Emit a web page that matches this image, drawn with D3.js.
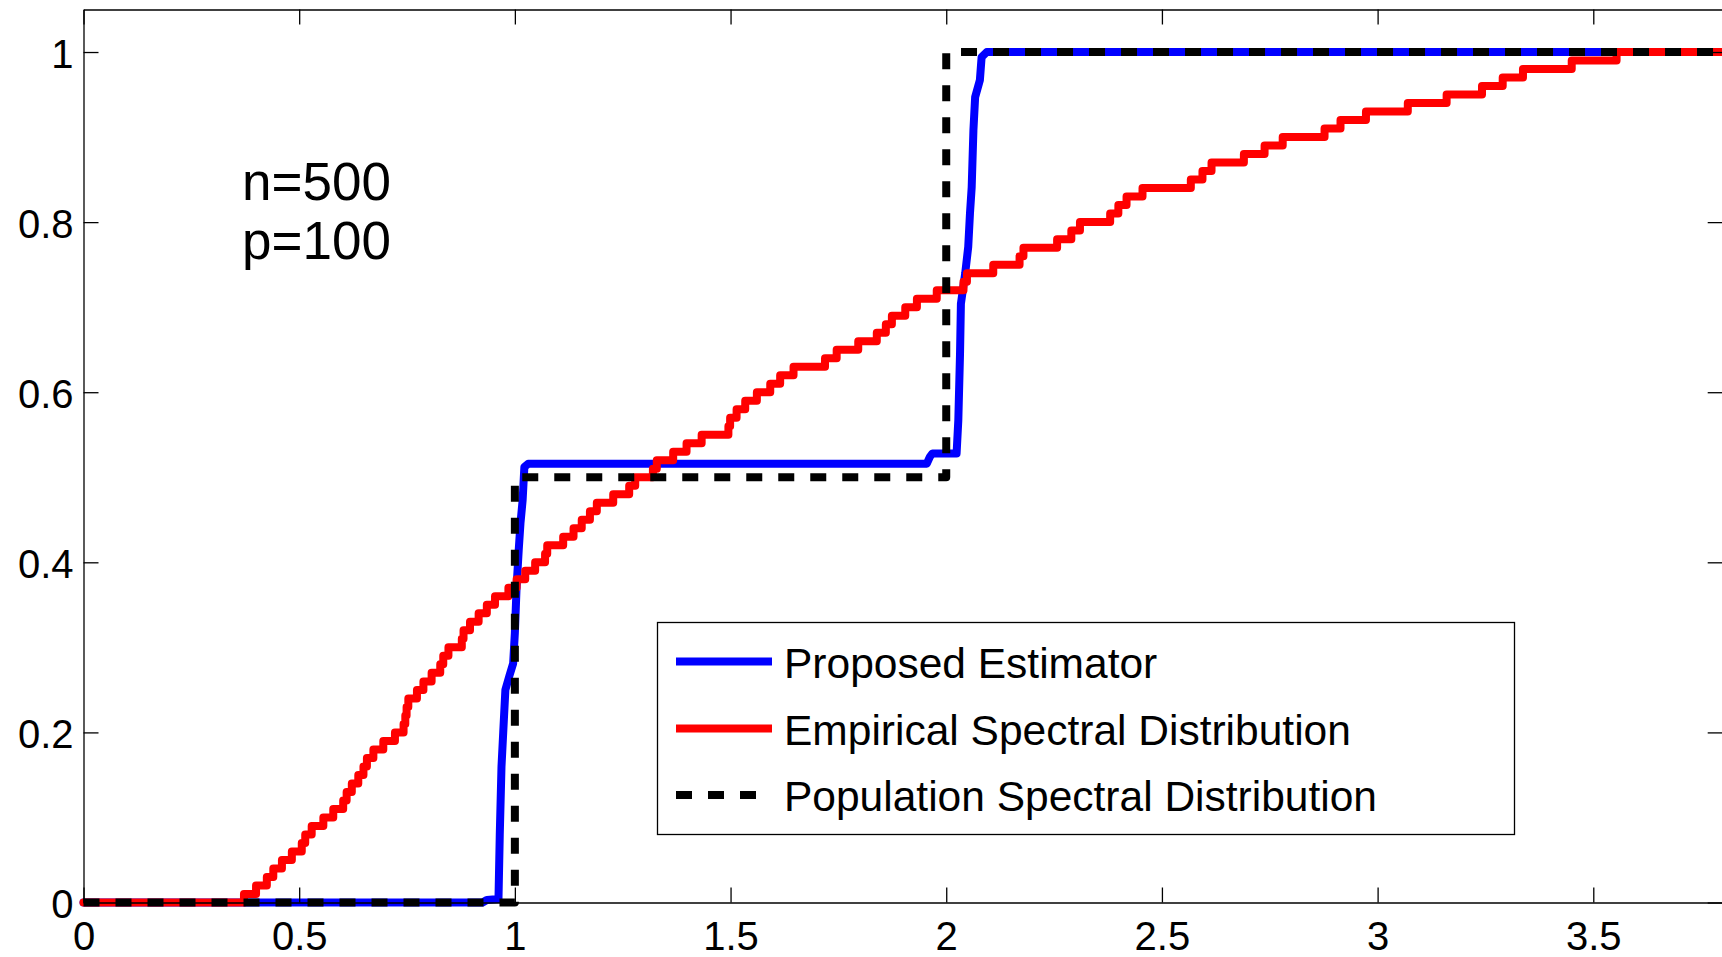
<!DOCTYPE html>
<html>
<head>
<meta charset="utf-8">
<script src="https://cdn.jsdelivr.net/npm/d3@7"></script>
<style>
  html, body { margin: 0; padding: 0; background: #fff; }
  svg { display: block; }
  text { font-family: "Liberation Sans", Arial, Helvetica, sans-serif; fill: #000; }
</style>
</head>
<body>
<svg id="chart" width="1722" height="957"></svg>
<script>
// ---- data ----
const xTicks = [0, 0.5, 1, 1.5, 2, 2.5, 3, 3.5];
const xTickLabels = ["0", "0.5", "1", "1.5", "2", "2.5", "3", "3.5"];
const yTicks = [0, 0.2, 0.4, 0.6, 0.8, 1];
const yTickLabels = ["0", "0.2", "0.4", "0.6", "0.8", "1"];

const seriesNames = ["Proposed Estimator", "Empirical Spectral Distribution", "Population Spectral Distribution"];
const annotations = ["n=500", "p=100"];

// Proposed estimator (blue) – points of the curve
const blueX = [0, 0.925, 0.935, 0.962, 0.965, 0.969, 0.973, 0.978, 0.987, 0.996, 1.0, 1.004, 1.009, 1.013, 1.018, 1.022, 1.031,
               1.955, 1.962, 1.968, 2.024, 2.028, 2.032, 2.034, 2.044, 2.051, 2.055, 2.059, 2.063, 2.067, 2.078, 2.082, 2.094, 3.8];
const blueY = [0, 0, 0.003, 0.004, 0.08, 0.16, 0.2, 0.25, 0.266, 0.281, 0.317, 0.371, 0.415, 0.446, 0.473, 0.512, 0.516,
               0.516, 0.524, 0.528, 0.528, 0.567, 0.646, 0.704, 0.74, 0.771, 0.81, 0.841, 0.908, 0.947, 0.967, 0.994, 1.0, 1.0];

// Empirical spectral distribution (red) – sorted sample eigenvalues (each a 0.01 step)
const eigenvalues = [
  0.372, 0.400, 0.425, 0.440, 0.460, 0.483, 0.506, 0.514, 0.529, 0.556,
  0.579, 0.602, 0.610, 0.622, 0.637, 0.649, 0.657, 0.672, 0.695, 0.722,
  0.742, 0.746, 0.749, 0.753, 0.773, 0.788, 0.807, 0.827, 0.834, 0.846,
  0.877, 0.881, 0.896, 0.916, 0.935, 0.954, 0.985, 1.004, 1.024, 1.047,
  1.070, 1.075, 1.112, 1.136, 1.155, 1.174, 1.190, 1.228, 1.265, 1.279,
  1.320, 1.329, 1.367, 1.398, 1.433, 1.495, 1.499, 1.514, 1.534, 1.561,
  1.592, 1.615, 1.646, 1.719, 1.746, 1.796, 1.839, 1.860, 1.874, 1.905,
  1.932, 1.978, 2.040, 2.048, 2.109, 2.170, 2.179, 2.257, 2.290, 2.310,
  2.380, 2.399, 2.418, 2.455, 2.567, 2.594, 2.615, 2.690, 2.738, 2.780,
  2.877, 2.914, 2.973, 3.070, 3.160, 3.242, 3.290, 3.337, 3.450, 3.554
];

// Population spectral distribution (black dashed)
const popX = [0, 1, 1, 2, 2, 3.8];
const popY = [0, 0, 0.5, 0.5, 1, 1];

const xDomain = [0, 3.8];
const yDomain = [0, 1.05];

// ---- drawing ----
const svg = d3.select("#chart");
const L = 83.5, R = 1722.7, T = 9.5, B = 902.5;
const x = d3.scaleLinear().domain(xDomain).range([L, R]);
const y = d3.scaleLinear().domain(yDomain).range([B, T]);

const lineGen = d3.line().x(d => x(d[0])).y(d => y(d[1]));
const stepGen = d3.line().x(d => x(d[0])).y(d => y(d[1])).curve(d3.curveStepAfter);

const bluePts = blueX.map((v, i) => [v, blueY[i]]);
const redPts = [[0, 0]].concat(eigenvalues.map((v, i) => [v, (i + 1) / eigenvalues.length]), [[xDomain[1], 1]]);
const popPts = popX.map((v, i) => [v, popY[i]]);

const LW = 8;
const plot = svg.append("g");
plot.append("path").attr("d", lineGen(bluePts))
  .attr("fill", "none").attr("stroke", "#0000ff").attr("stroke-width", LW)
  .attr("stroke-linejoin", "round").attr("stroke-linecap", "round");
plot.append("path").attr("d", stepGen(redPts))
  .attr("fill", "none").attr("stroke", "#ff0000").attr("stroke-width", LW)
  .attr("stroke-linejoin", "round").attr("stroke-linecap", "round");
plot.append("path").attr("d", lineGen(popPts))
  .attr("fill", "none").attr("stroke", "#000").attr("stroke-width", LW)
  .attr("stroke-dasharray", "16,16").attr("stroke-linejoin", "round").attr("stroke-linecap", "butt");

// axes (box with inward ticks on all sides)
const axB = d3.axisBottom(x).tickValues(xTicks).tickFormat((d, i) => xTickLabels[i]).tickSizeInner(-15).tickSizeOuter(0).tickPadding(19);
const axT = d3.axisTop(x).tickValues(xTicks).tickFormat("").tickSizeInner(-15).tickSizeOuter(0);
const axL = d3.axisLeft(y).tickValues(yTicks).tickFormat((d, i) => yTickLabels[i]).tickSizeInner(-15).tickSizeOuter(0).tickPadding(10);
const axR = d3.axisRight(y).tickValues(yTicks).tickFormat("").tickSizeInner(-15).tickSizeOuter(0);

function styleAxis(g) {
  g.selectAll("path.domain").attr("stroke", "#000").attr("stroke-width", 1.3);
  g.selectAll(".tick line").attr("stroke", "#000").attr("stroke-width", 1.3);
  g.selectAll(".tick text").attr("font-size", 40).attr("font-family", "Liberation Sans, Arial, sans-serif").attr("fill", "#000");
}
svg.append("g").attr("transform", `translate(0,${B})`).call(axB).call(styleAxis);
svg.append("g").attr("transform", `translate(0,${T})`).call(axT).call(styleAxis);
const gL = svg.append("g").attr("transform", `translate(${L},0)`).call(axL).call(styleAxis);
gL.selectAll(".tick text").attr("dy", "0.38em");
svg.append("g").attr("transform", `translate(${R},0)`).call(axR).call(styleAxis);

// annotation
svg.append("text").attr("x", 242).attr("y", 200).attr("font-size", 53).text(annotations[0]);
svg.append("text").attr("x", 242).attr("y", 259).attr("font-size", 53).text(annotations[1]);

// legend
const leg = svg.append("g");
leg.append("rect").attr("x", 657.5).attr("y", 622.5).attr("width", 857).attr("height", 212)
  .attr("fill", "#fff").attr("stroke", "#000").attr("stroke-width", 1.3);
const rowY = [661.5, 728.5, 795];
const legStyles = [
  { color: "#0000ff", dash: null },
  { color: "#ff0000", dash: null },
  { color: "#000", dash: "16,16" }
];
seriesNames.forEach((name, i) => {
  const ln = leg.append("line").attr("x1", 676).attr("x2", 772).attr("y1", rowY[i]).attr("y2", rowY[i])
    .attr("stroke", legStyles[i].color).attr("stroke-width", LW);
  if (legStyles[i].dash) ln.attr("stroke-dasharray", legStyles[i].dash);
  leg.append("text").attr("x", 784).attr("y", rowY[i] + 16).attr("font-size", 42.5).text(name);
});
</script>
</body>
</html>
